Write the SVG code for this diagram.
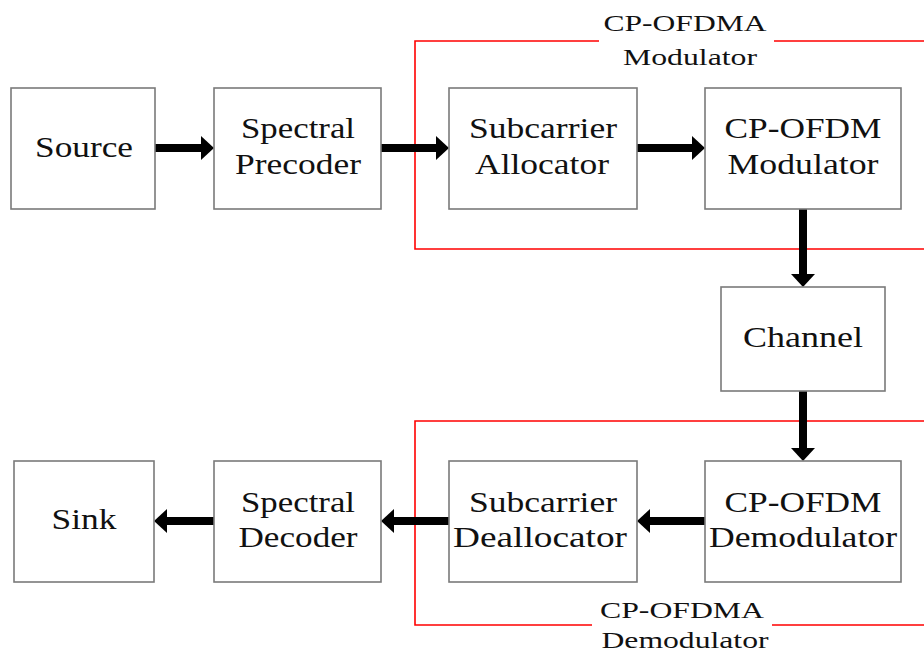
<svg xmlns="http://www.w3.org/2000/svg" width="924" height="653" viewBox="0 0 924 653">
<defs>
<style>
.box{fill:#fff;stroke:#7a7a7a;stroke-width:1.6}
.t{font-family:"Liberation Serif","Times New Roman",serif;font-size:29px;fill:#111;text-anchor:middle}
.lbl{font-family:"Liberation Serif","Times New Roman",serif;font-size:24px;fill:#111;text-anchor:middle}
.red{fill:none;stroke:#ff0000;stroke-width:1.6}
.arr{stroke:#000;stroke-width:8;fill:none;marker-end:url(#ah)}
</style>
<marker id="ah" markerUnits="userSpaceOnUse" markerWidth="13" markerHeight="24" refX="0" refY="12" orient="auto" viewBox="0 0 13 24">
<path d="M0,0 L13,12 L0,24 z" fill="#000"/>
</marker>
</defs>
<rect width="924" height="653" fill="#fff"/>

<g id="groups">
<path class="red" d="M924,41 H774 M599,41 H415 V249 H924"/>
<path class="red" d="M924,421 H415 V625 H592 M772,625 H924"/>
<text class="lbl" x="685" y="31" textLength="163" lengthAdjust="spacingAndGlyphs">CP-OFDMA</text>
<text class="lbl" x="690" y="65" textLength="134" lengthAdjust="spacingAndGlyphs">Modulator</text>
<text class="lbl" x="682" y="618" textLength="164" lengthAdjust="spacingAndGlyphs">CP-OFDMA</text>
<text class="lbl" x="685" y="648" textLength="167" lengthAdjust="spacingAndGlyphs">Demodulator</text>
</g>

<g id="connectors">
<line class="arr" x1="155" y1="148" x2="201" y2="148"/>
<line class="arr" x1="381" y1="148" x2="436" y2="148"/>
<line class="arr" x1="637" y1="148" x2="692" y2="148"/>
<line class="arr" x1="803" y1="209" x2="803" y2="274"/>
<line class="arr" x1="803" y1="391" x2="803" y2="448"/>
<line class="arr" x1="705" y1="521" x2="650" y2="521"/>
<line class="arr" x1="449" y1="521" x2="394" y2="521"/>
<line class="arr" x1="214" y1="521" x2="167" y2="521"/>
</g>

<g id="source">
<rect class="box" x="11" y="88" width="144" height="121"/>
<text class="t" x="84" y="157" textLength="98" lengthAdjust="spacingAndGlyphs">Source</text>
</g>
<g id="precoder">
<rect class="box" x="214" y="88" width="167" height="121"/>
<text class="t" x="298" y="138" textLength="114" lengthAdjust="spacingAndGlyphs">Spectral</text>
<text class="t" x="298" y="174" textLength="126" lengthAdjust="spacingAndGlyphs">Precoder</text>
</g>
<g id="allocator">
<rect class="box" x="449" y="88" width="188" height="121"/>
<text class="t" x="543" y="138" textLength="148" lengthAdjust="spacingAndGlyphs">Subcarrier</text>
<text class="t" x="542" y="174" textLength="134" lengthAdjust="spacingAndGlyphs">Allocator</text>
</g>
<g id="modulator">
<rect class="box" x="705" y="88" width="196" height="121"/>
<text class="t" x="803" y="138" textLength="157" lengthAdjust="spacingAndGlyphs">CP-OFDM</text>
<text class="t" x="803" y="174" textLength="151" lengthAdjust="spacingAndGlyphs">Modulator</text>
</g>
<g id="channel">
<rect class="box" x="721" y="287" width="164" height="104"/>
<text class="t" x="803" y="347" textLength="120" lengthAdjust="spacingAndGlyphs">Channel</text>
</g>
<g id="demodulator">
<rect class="box" x="705" y="461" width="196" height="121"/>
<text class="t" x="803" y="512" textLength="157" lengthAdjust="spacingAndGlyphs">CP-OFDM</text>
<text class="t" x="803" y="547" textLength="188" lengthAdjust="spacingAndGlyphs">Demodulator</text>
</g>
<g id="deallocator">
<rect class="box" x="449" y="461" width="188" height="121"/>
<text class="t" x="543" y="512" textLength="148" lengthAdjust="spacingAndGlyphs">Subcarrier</text>
<text class="t" x="540" y="547" textLength="174" lengthAdjust="spacingAndGlyphs">Deallocator</text>
</g>
<g id="decoder">
<rect class="box" x="214" y="461" width="167" height="121"/>
<text class="t" x="298" y="512" textLength="114" lengthAdjust="spacingAndGlyphs">Spectral</text>
<text class="t" x="298" y="547" textLength="119" lengthAdjust="spacingAndGlyphs">Decoder</text>
</g>
<g id="sink">
<rect class="box" x="14" y="461" width="140" height="121"/>
<text class="t" x="84" y="529" textLength="65" lengthAdjust="spacingAndGlyphs">Sink</text>
</g>
</svg>
